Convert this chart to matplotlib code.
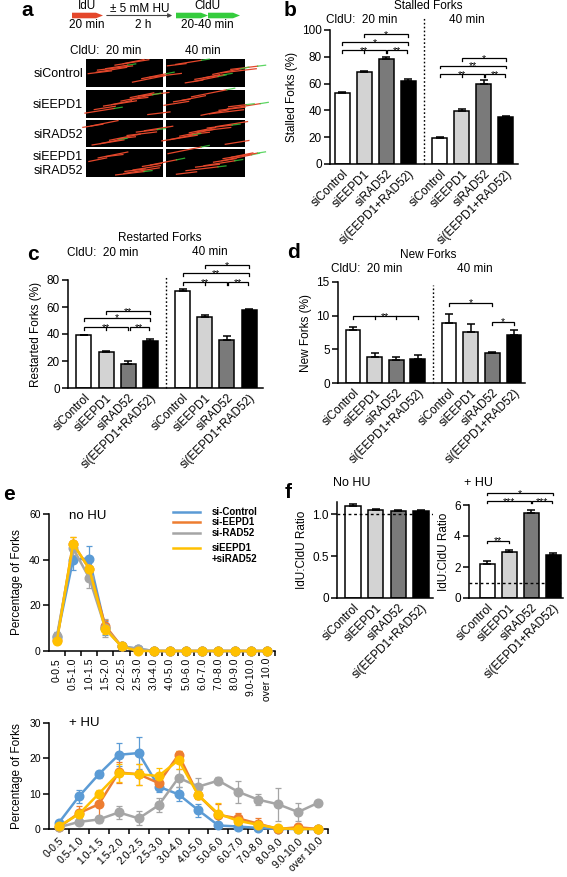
import matplotlib
matplotlib.use("Agg")
import matplotlib.pyplot as plt
from matplotlib.patches import Rectangle, Polygon
from matplotlib.lines import Line2D

plt.rcParams['font.family'] = ['Liberation Sans', 'DejaVu Sans']

W, H = 567, 877
fig = plt.figure(figsize=(W / 100, H / 100), dpi=100)

# ---------------- data ----------------
groups = ['siControl', 'siEEPD1', 'siRAD52', 'si(EEPD1+RAD52)']
bar_colors = ['white', '#d3d3d3', '#7a7a7a', 'black']

stalled_20 = [53, 69, 78.5, 62]
stalled_20_err = [1.0, 0.5, 1.5, 1.5]
stalled_40 = [19.5, 39.5, 60, 35]
stalled_40_err = [1.0, 1.5, 2.5, 0.5]

restarted_20 = [39, 27, 18, 34.5]
restarted_20_err = [0.6, 0.6, 2.0, 1.5]
restarted_40 = [71.5, 52.5, 35.5, 58]
restarted_40_err = [1.5, 1.5, 3.0, 0.5]

new_20 = [7.9, 3.9, 3.4, 3.5]
new_20_err = [0.4, 0.5, 0.4, 0.7]
new_40 = [8.9, 7.6, 4.4, 7.2]
new_40_err = [1.4, 1.2, 0.15, 0.6]

ratio_nohu = [1.09, 1.05, 1.04, 1.04]
ratio_nohu_err = [0.03, 0.01, 0.01, 0.005]
ratio_hu = [2.2, 3.0, 5.5, 2.8]
ratio_hu_err = [0.2, 0.12, 0.2, 0.12]

bins = ['0-0.5', '0.5-1.0', '1.0-1.5', '1.5-2.0', '2.0-2.5', '2.5-3.0', '3.0-4.0',
        '4.0-5.0', '5.0-6.0', '6.0-7.0', '7.0-8.0', '8.0-9.0', '9.0-10.0', 'over 10.0']
series_names = ['si-Control', 'si-EEPD1', 'si-RAD52', 'siEEPD1\n+siRAD52']
series_colors = ['#5b9bd5', '#ed7d31', '#a5a5a5', '#ffc000']

nohu_control = [6, 40, 40.5, 10, 2, 1, 0, 0, 0, 0, 0, 0, 0, 0]
nohu_control_err = [2.5, 4.5, 5.5, 3, 0.5, 0.3, 0, 0, 0, 0, 0, 0, 0, 0]
nohu_eepd1 = [5, 47, 36, 11, 2, 0.5, 0, 0, 0, 0, 0, 0, 0, 0]
nohu_eepd1_err = [1.5, 3, 3, 2.5, 0.5, 0.3, 0, 0, 0, 0, 0, 0, 0, 0]
nohu_rad52 = [6.5, 45, 32, 10, 2, 1, 0, 0, 0, 0, 0, 0, 0, 0]
nohu_rad52_err = [2, 3, 4.5, 4, 0.5, 0.5, 0, 0, 0, 0, 0, 0, 0, 0]
nohu_double = [4.5, 47, 36, 9.5, 2, 0, 0, 0, 0, 0, 0, 0, 0, 0]
nohu_double_err = [1.5, 3, 3, 2, 0.5, 0.2, 0, 0, 0, 0, 0, 0, 0, 0]

hu_control = [1.8, 9.2, 15.5, 21, 21.5, 12, 9.8, 5.3, 1.0, 0.7, 0.3, 0, 0, 0]
hu_control_err = [0.5, 1.8, 1.0, 3.2, 4.5, 1.5, 2.0, 1.8, 0.5, 0.5, 0.3, 0, 0, 0]
hu_eepd1 = [0.5, 4.5, 7, 16, 15.5, 13, 21, 9.5, 4, 3, 1.5, 0, 0.5, 0]
hu_eepd1_err = [0.5, 2, 3.5, 3, 3, 1.5, 1.2, 1, 3, 1.5, 1.5, 0.3, 1, 0.3]
hu_rad52 = [0.5, 2, 2.7, 4.7, 3, 6.7, 14.5, 12, 13.7, 10.5, 8.3, 7, 4.8, 7.4]
hu_rad52_err = [0.5, 1, 1, 1.8, 2, 2, 2.5, 2.5, 1, 3, 1.5, 4.7, 2.5, 0.5]
hu_double = [0.8, 4.2, 10, 15.8, 15.5, 15, 19.5, 9.5, 4.3, 2.3, 1.2, 0.2, 0, 0]
hu_double_err = [0.5, 1, 1, 2.5, 3, 2.3, 2.5, 1, 3, 1.5, 1, 0.3, 0.3, 0.3]

# ---------------- helpers ----------------
def rect(l, t, r, b):
    return [l / W, 1 - b / H, (r - l) / W, (b - t) / H]

FS_TICK = 8.5
LW = 1.1


def style(ax):
    ax.set_facecolor('none')
    for s in ['top', 'right']:
        ax.spines[s].set_visible(False)
    for s in ['left', 'bottom']:
        ax.spines[s].set_linewidth(LW)
    ax.tick_params(axis='y', direction='out', length=4, width=LW, labelsize=FS_TICK, pad=2)


pos = [0, 1, 2, 3, 4.45, 5.45, 6.45, 7.45]


def bar_panel(ax, v20, e20, v40, e40, ylim, yticks, ylabel, xlim, dash_top):
    vals = v20 + v40
    errs = e20 + e40
    cols = bar_colors * 2
    ax.bar(pos, vals, width=0.68, color=cols, edgecolor='black', linewidth=LW, zorder=2)
    ax.errorbar(pos, vals, yerr=[[0] * 8, errs], fmt='none', ecolor='black',
                elinewidth=LW, capsize=3, capthick=LW, zorder=3)
    ax.set_xlim(*xlim)
    ax.set_ylim(*ylim)
    ax.set_yticks(yticks)
    ax.set_xticks(pos)
    ax.set_xticklabels(groups * 2, rotation=45, ha='right', va='top',
                       rotation_mode='anchor', fontsize=FS_TICK)
    ax.tick_params(axis='x', length=0, pad=3)
    xd = (pos[3] + pos[4]) / 2
    ax.plot([xd, xd], [0, dash_top], color='black', lw=1.0,
            linestyle=(0, (1.2, 1.6)), clip_on=False)
    ax.set_ylabel(ylabel, fontsize=8.5, labelpad=3)
    style(ax)


def bracket(ax, i1, i2, y, label, h, offset=0, ticks=(), shrink=0.0, fs=7.5, p=None):
    p = pos if p is None else p
    x1 = p[offset + i1] + shrink
    x2 = p[offset + i2] - shrink
    ax.plot([x1, x1, x2, x2], [y - h, y, y, y - h], color='black', lw=0.9,
            clip_on=False, solid_joinstyle='miter')
    for t in ticks:
        xt = p[offset + t]
        ax.plot([xt, xt], [y, y - h], color='black', lw=0.9, clip_on=False)
    ax.annotate(label, xy=((x1 + x2) / 2, y), xytext=(0, -2.6), textcoords='offset points',
                ha='center', va='baseline', fontsize=fs, annotation_clip=False)


# ---------------- overlay for text and panel a ----------------
ov = fig.add_axes([0, 0, 1, 1])
ov.set_xlim(0, W)
ov.set_ylim(H, 0)
ov.axis('off')
ov.set_zorder(10)


def T(x, y, s, fs=8.5, **kw):
    ov.text(x, y, s, fontsize=fs, ha=kw.pop('ha', 'center'), va=kw.pop('va', 'center'), **kw)


# panel letters
for (x, y, s) in [(27, 11, 'a'), (290, 11, 'b'), (33, 255, 'c'), (293, 252, 'd'),
                  (9, 495, 'e'), (288, 493, 'f')]:
    T(x, y, s, fs=15, fontweight='bold')

# panel a schematic
red = '#e4472b'
green = '#35cc3d'


def block_arrow(x0, x1, yc, color):
    hw = 2.8
    head = 7
    ov.add_patch(Polygon([[x0, yc - hw], [x1 - head, yc - hw],
                          [x1, yc], [x1 - head, yc + hw], [x0, yc + hw]],
                         closed=True, facecolor=color, edgecolor='none'))


block_arrow(72, 103, 15.5, red)
block_arrow(176, 208, 15.5, green)
block_arrow(208, 240, 15.5, green)
ov.annotate('', xy=(175, 15.5), xytext=(104, 15.5),
            arrowprops=dict(arrowstyle='-|>', color='#444444', lw=0.8, mutation_scale=6))
T(87, 6, 'IdU')
T(87, 25, '20 min')
T(140, 9, '± 5 mM HU')
T(143, 25, '2 h')
T(207, 6, 'CldU')
T(207, 25, '20-40 min')
T(106, 51, 'CldU:  20 min')
T(203, 51, '40 min')

tile_cols = [(86, 163), (166, 245)]
tile_rows = [(59, 87), (90, 118), (120, 147), (149, 177)]
row_labels = ['siControl', 'siEEPD1', 'siRAD52', 'siEEPD1\nsiRAD52']
for ri, (t, b) in enumerate(tile_rows):
    T(83, (t + b) / 2 + 1, row_labels[ri], fs=9, ha='right', linespacing=1.15)
    for ci, (l, r) in enumerate(tile_cols):
        bg = Rectangle((l, t), r - l, b - t, facecolor='black', edgecolor='none')
        ov.add_patch(bg)
        k0 = ri * 2 + ci + 1
        for k in range(9):
            fx = (k * 0.377 + k0 * 0.231) % 1.0
            fy = (k * 0.613 + k0 * 0.419) % 1.0
            L = 16 + 20 * ((k * 0.53 + k0 * 0.71) % 1.0)
            xa = l - 6 + fx * (r - l - 6)
            ya = t + 4 + fy * (b - t - 6)
            sl = -(0.12 + 0.08 * ((k + k0) % 3) / 2)
            ln = Line2D([xa, xa + L], [ya, ya + sl * L], color=red, lw=0.9)
            ln.set_clip_path(bg)
            ov.add_line(ln)
            if (k + k0) % 4 == 0 or (ci == 1 and ri in (0, 3) and k % 2 == 0):
                g = Line2D([xa + L, xa + L + 8], [ya + sl * L, ya + sl * (L + 8)],
                           color=green, lw=0.9, alpha=0.8)
                g.set_clip_path(bg)
                ov.add_line(g)

# titles
T(428, 6, 'Stalled Forks')
T(362, 20, 'CldU:  20 min')
T(467, 20, '40 min')
T(160, 238, 'Restarted Forks')
T(103, 253, 'CldU:  20 min')
T(210, 252, '40 min')
T(428, 255, 'New Forks')
T(367, 269, 'CldU:  20 min')
T(475, 269, '40 min')
T(88, 516, 'no HU', fs=9.5)
T(84, 723, '+ HU', fs=9.5)
T(352, 483, 'No HU', fs=9)
T(478, 483, '+ HU', fs=9)

# legend e
leg_y = [512, 522, 533, 548]
for name, col, y in zip(series_names, series_colors, leg_y):
    ov.add_line(Line2D([173, 200], [y, y], color=col, lw=1.8))
    T(212, y + (5.5 if '\n' in name else 0), name, fs=7, ha='left', fontweight='bold',
      linespacing=1.2)

# ---------------- panel b ----------------
axb = fig.add_axes(rect(330, 30, 518, 164))
bar_panel(axb, stalled_20, stalled_20_err, stalled_40, stalled_40_err, (0, 100),
          [0, 20, 40, 60, 80, 100], 'Stalled Forks (%)', (-0.55, 8.0), 110)
hb = 2.2
bracket(axb, 1, 3, 97, '*', hb)
bracket(axb, 0, 3, 91, '*', hb)
bracket(axb, 0, 2, 85, '**', hb, ticks=[1], shrink=0)
bracket(axb, 2, 3, 85, '**', hb, shrink=0.06)
bracket(axb, 1, 3, 79, '*', hb, offset=4)
bracket(axb, 0, 3, 73.5, '**', hb, offset=4)
bracket(axb, 0, 2, 67, '**', hb, offset=4, ticks=[1])
bracket(axb, 2, 3, 67, '**', hb, offset=4, shrink=0.06)

# ---------------- panel c ----------------
axc = fig.add_axes(rect(68, 280, 263, 388))
bar_panel(axc, restarted_20, restarted_20_err, restarted_40, restarted_40_err, (0, 80),
          [0, 20, 40, 60, 80], 'Restarted Forks (%)', (-0.72, 8.08), 83)
hc = 2.2
bracket(axc, 1, 3, 57, '**', hc)
bracket(axc, 0, 3, 52, '*', hc)
bracket(axc, 0, 2, 45, '**', hc, ticks=[1])
bracket(axc, 2, 3, 45, '**', hc, shrink=0.06)
bracket(axc, 1, 3, 91, '*', hc, offset=4)
bracket(axc, 0, 3, 85, '**', hc, offset=4)
bracket(axc, 0, 2, 78.5, '**', hc, offset=4, ticks=[1])
bracket(axc, 2, 3, 78.5, '**', hc, offset=4, shrink=0.06)

# ---------------- panel d ----------------
axd = fig.add_axes(rect(338, 282, 525, 383))
bar_panel(axd, new_20, new_20_err, new_40, new_40_err, (0, 15),
          [0, 5, 10, 15], 'New Forks (%)', (-0.69, 7.96), 14.6)
hd = 0.45
bracket(axd, 0, 3, 9.9, '**', hd, ticks=[1, 2])
bracket(axd, 0, 2, 11.9, '*', hd, offset=4)
bracket(axd, 2, 3, 9.1, '*', hd, offset=4)

# ---------------- panel e ----------------
xs = list(range(len(bins)))


def line_panel(ax, series, errs, ylim, yticks, rot, fs_lab, xlim):
    for vals, er, col in zip(series, errs, series_colors):
        ax.errorbar(xs, vals, yerr=er, color=col, ecolor=col, lw=1.8, marker='o',
                    markersize=6.2, capsize=2.5, elinewidth=0.9, capthick=0.9,
                    clip_on=False, zorder=3)
    ax.set_xlim(*xlim)
    ax.set_ylim(*ylim)
    ax.set_yticks(yticks)
    ax.set_xticks(xs)
    if rot == 90:
        ax.set_xticklabels(bins, rotation=90, ha='center', va='top', fontsize=fs_lab)
    else:
        ax.set_xticklabels(bins, rotation=45, ha='right', va='top',
                           rotation_mode='anchor', fontsize=fs_lab)
    ax.set_xticks([x + 0.5 for x in xs], minor=True)
    ax.tick_params(axis='x', which='major', length=0, pad=5)
    ax.tick_params(axis='x', which='minor', length=3.5, width=LW, direction='out')
    ax.set_ylabel('Percentage of Forks', fontsize=8.5, labelpad=4)
    style(ax)
    ax.tick_params(axis='y', labelsize=7.5)


axe1 = fig.add_axes(rect(49, 514, 275, 651))
line_panel(axe1, [nohu_control, nohu_eepd1, nohu_rad52, nohu_double],
           [nohu_control_err, nohu_eepd1_err, nohu_rad52_err, nohu_double_err],
           (0, 60), [0, 20, 40, 60], 90, 7.5, (-0.49, 13.43))

axe2 = fig.add_axes(rect(49, 723, 328, 829))
line_panel(axe2, [hu_control, hu_eepd1, hu_rad52, hu_double],
           [hu_control_err, hu_eepd1_err, hu_rad52_err, hu_double_err],
           (0, 30), [0, 10, 20, 30], 45, 7.5, (-0.5, 13.45))

# ---------------- panel f ----------------
pos4 = [0, 1, 2, 3]


def ratio_panel(ax, vals, errs, ylim, yticks, yticklabels, xlim):
    ax.bar(pos4, vals, width=0.68, color=bar_colors, edgecolor='black', linewidth=LW, zorder=2)
    ax.errorbar(pos4, vals, yerr=[[0] * 4, errs], fmt='none', ecolor='black',
                elinewidth=LW, capsize=3, capthick=LW, zorder=3)
    ax.axhline(1.0, color='black', lw=1.0, linestyle=(0, (2, 2)), zorder=4)
    ax.set_xlim(*xlim)
    ax.set_ylim(*ylim)
    ax.set_yticks(yticks)
    ax.set_yticklabels(yticklabels)
    ax.set_xticks(pos4)
    ax.set_xticklabels(groups, rotation=45, ha='right', va='top',
                       rotation_mode='anchor', fontsize=FS_TICK)
    ax.tick_params(axis='x', length=0, pad=3)
    ax.set_ylabel('IdU:CldU Ratio', fontsize=8.5, labelpad=3)
    style(ax)


axf1 = fig.add_axes(rect(337, 502, 433, 598))
ratio_panel(axf1, ratio_nohu, ratio_nohu_err, (0, 1.143), [0, 0.5, 1.0], ['0', '0.5', '1.0'],
            (-0.7, 3.52))
axf2 = fig.add_axes(rect(469, 505, 563, 598))
ratio_panel(axf2, ratio_hu, ratio_hu_err, (0, 6), [0, 2, 4, 6], ['0', '2', '4', '6'],
            (-0.82, 3.45))
hf = 0.13
bracket(axf2, 0, 1, 3.7, '**', hf, p=pos4)
bracket(axf2, 0, 3, 6.75, '*', hf, p=pos4)
bracket(axf2, 0, 2, 6.25, '***', hf, p=pos4)
bracket(axf2, 2, 3, 6.25, '***', hf, shrink=0.06, p=pos4)

fig.savefig('out.png', dpi=100)
